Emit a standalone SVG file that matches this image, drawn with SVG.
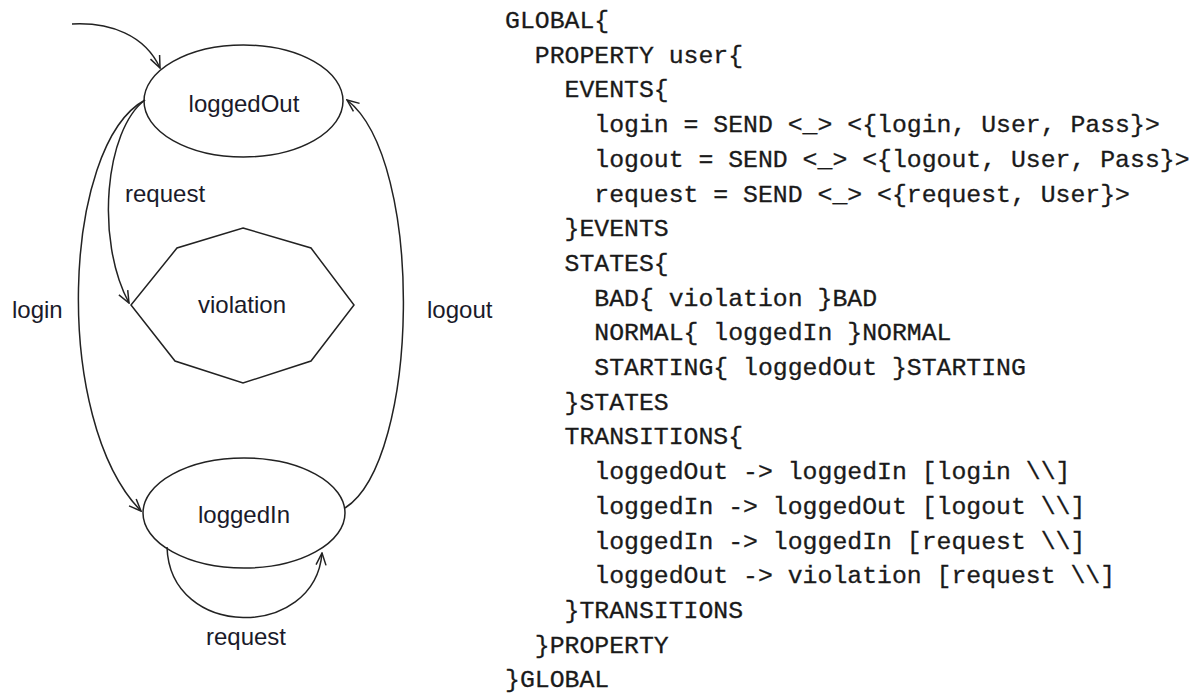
<svg xmlns="http://www.w3.org/2000/svg" width="1200" height="693" viewBox="0 0 1200 693">
  <style>
    .state { fill: #ffffff; stroke: #222222; stroke-width: 1.5; }
    .lbl { font-family: "Liberation Sans", Arial, sans-serif; font-size: 24px; fill: #1a1a2a; }
    .mid { text-anchor: middle; }
    .edge { fill: none; stroke: #222222; stroke-width: 1.5; marker-end: url(#vee); }
    .code { font-family: "Liberation Mono", "DejaVu Sans Mono", monospace; font-size: 24.8px; fill: #1a1a1a; stroke: #1a1a1a; stroke-width: 0.3; white-space: pre; }
  </style>
  <defs>
    <marker id="vee" markerUnits="userSpaceOnUse" markerWidth="14" markerHeight="12" refX="12" refY="5" orient="auto" viewBox="-1 -1 14 12">
      <path d="M0,0 L12,5 L0,10" fill="none" stroke="#222222" stroke-width="1.5"/>
    </marker>
  </defs>

  <rect width="1200" height="693" fill="#ffffff"/>

  <!-- state machine -->
  <g id="loggedOut">
    <ellipse class="state" cx="243.5" cy="101" rx="99.5" ry="56"/>
    <text class="lbl mid" x="244" y="112">loggedOut</text>
  </g>
  <g id="violation">
    <polygon class="state" points="243,228 311,248 354,305 311,361 243,383 175,361 131,305 177,248"/>
    <text class="lbl mid" x="242" y="313">violation</text>
  </g>
  <g id="loggedIn">
    <ellipse class="state" cx="244" cy="513" rx="101" ry="55"/>
    <text class="lbl mid" x="244" y="523">loggedIn</text>
  </g>

  <g id="connectors">
    <!-- initial -->
    <path class="edge" d="M72,24 C110,22 145,35 160,68"/>
    <!-- loggedOut -> loggedIn -->
    <path class="edge" d="M145,100 C62,145 52,420 141,511"/>
    <!-- loggedOut -> violation -->
    <path class="edge" d="M145,100 C105,130 95,240 129,303"/>
    <!-- loggedIn -> loggedOut -->
    <path class="edge" d="M345,508 C420,460 425,160 347,100"/>
    <!-- loggedIn self loop -->
    <path class="edge" d="M167,547 C170,640 315,640 322,553"/>
    <text class="lbl" x="125" y="202">request</text>
    <text class="lbl" x="12" y="318">login</text>
    <text class="lbl" x="427" y="318">logout</text>
    <text class="lbl mid" x="246" y="645">request</text>
  </g>

  <!-- specification listing -->
  <g id="listing" class="code">
    <text x="505" y="28">GLOBAL{</text>
    <text x="534.8" y="62.7">PROPERTY user{</text>
    <text x="564.5" y="97.4">EVENTS{</text>
    <text x="594.3" y="132.1">login = SEND &lt;_&gt; &lt;{login, User, Pass}&gt;</text>
    <text x="594.3" y="166.8">logout = SEND &lt;_&gt; &lt;{logout, User, Pass}&gt;</text>
    <text x="594.3" y="201.5">request = SEND &lt;_&gt; &lt;{request, User}&gt;</text>
    <text x="564.5" y="236.2">}EVENTS</text>
    <text x="564.5" y="270.9">STATES{</text>
    <text x="594.3" y="305.6">BAD{ violation }BAD</text>
    <text x="594.3" y="340.3">NORMAL{ loggedIn }NORMAL</text>
    <text x="594.3" y="375">STARTING{ loggedOut }STARTING</text>
    <text x="564.5" y="409.7">}STATES</text>
    <text x="564.5" y="444.4">TRANSITIONS{</text>
    <text x="594.3" y="479.1">loggedOut -&gt; loggedIn [login \\]</text>
    <text x="594.3" y="513.8">loggedIn -&gt; loggedOut [logout \\]</text>
    <text x="594.3" y="548.5">loggedIn -&gt; loggedIn [request \\]</text>
    <text x="594.3" y="583.2">loggedOut -&gt; violation [request \\]</text>
    <text x="564.5" y="617.9">}TRANSITIONS</text>
    <text x="534.8" y="652.6">}PROPERTY</text>
    <text x="505" y="687">}GLOBAL</text>
  </g>
</svg>
